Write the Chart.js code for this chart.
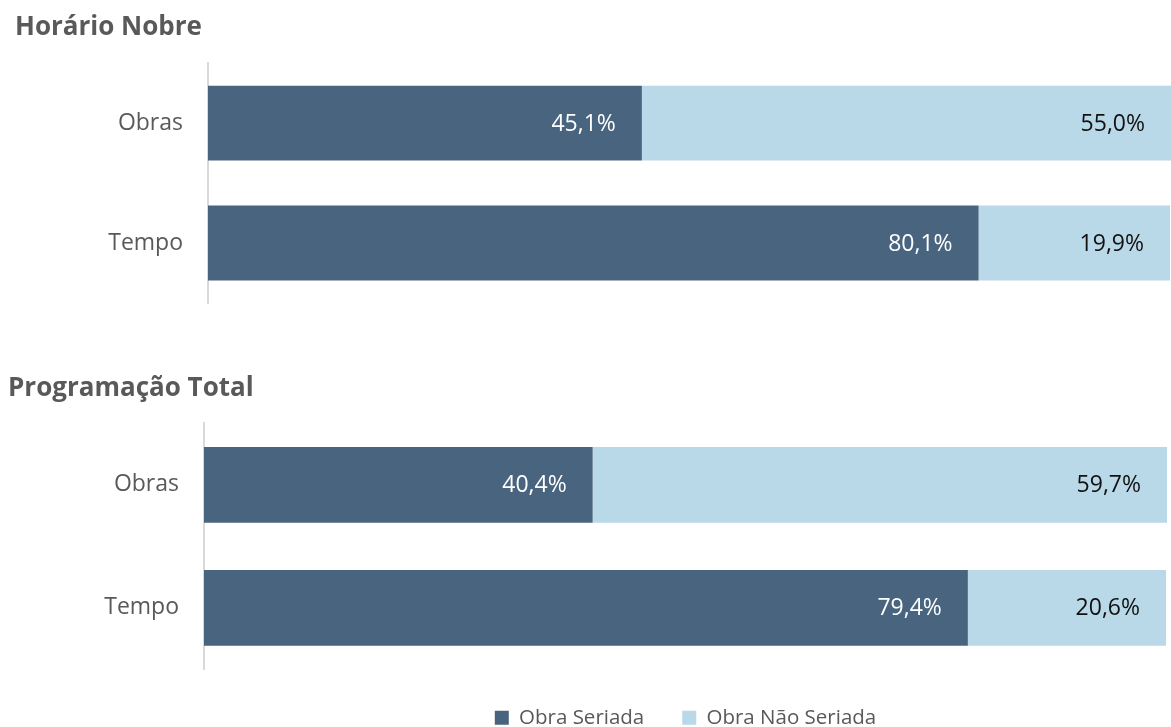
<!DOCTYPE html>
<html>
<head>
<meta charset="utf-8">
<script src="https://cdn.jsdelivr.net/npm/chart.js@4/dist/chart.umd.min.js"></script>
<style>
  html, body { margin: 0; padding: 0; background: #fff; overflow: hidden; }
  .box { position: absolute; left: 0; width: 1171px; }
  #top { top: 0; height: 330px; }
  #bottom { top: 340px; height: 398px; }
</style>
</head>
<body>
<div class="box" id="top"><canvas id="nobreChart"></canvas></div>
<div class="box" id="bottom"><canvas id="totalChart"></canvas></div>
<script>
const categories = ['Obras', 'Tempo'];
const seriesNames = ['Obra Seriada', 'Obra Não Seriada'];
const nobreSeriada = [45.1, 80.1];
const nobreNaoSeriada = [55.0, 19.9];
const totalSeriada = [40.4, 79.4];
const totalNaoSeriada = [59.7, 20.6];

const DARK = '#48647e';
const LIGHT = '#b9d8e8';
const GREY = '#595959';
const FONT = "'Open Sans', 'DejaVu Sans', sans-serif";

// value labels drawn near the end of each bar segment
const barLabels = {
    id: 'barLabels',
    afterDatasetsDraw(chart) {
        const ctx = chart.ctx;
        ctx.save();
        ctx.font = '23px ' + FONT;
        ctx.textAlign = 'right';
        ctx.textBaseline = 'middle';
        chart.data.datasets.forEach((ds, i) => {
            const meta = chart.getDatasetMeta(i);
            meta.data.forEach((bar, j) => {
                ctx.fillStyle = i === 0 ? '#ffffff' : '#111111';
                const txt = ds.data[j].toFixed(1).replace('.', ',') + '%';
                ctx.fillText(txt, bar.x - 26, bar.y + 1);
            });
        });
        ctx.restore();
    }
};

function makeChart(id, title, seriada, naoSeriada, opts) {
    return new Chart(document.getElementById(id), {
        type: 'bar',
        data: {
            labels: categories,
            datasets: [
                { label: seriesNames[0], data: seriada, backgroundColor: DARK },
                { label: seriesNames[1], data: naoSeriada, backgroundColor: LIGHT }
            ]
        },
        options: {
            indexAxis: 'y',
            maintainAspectRatio: false,
            animation: false,
            events: [],
            categoryPercentage: opts.barFrac,
            barPercentage: 1,
            layout: { padding: opts.padding },
            scales: {
                x: { stacked: true, min: 0, max: 100.1, display: false },
                y: {
                    stacked: true,
                    grid: { display: false, drawTicks: false },
                    border: { display: true, color: '#d9d9d9', width: 2 },
                    ticks: { color: GREY, padding: 25, font: { family: FONT, size: 23 } },
                    afterFit(scale) {
                        scale.width = opts.axisX - opts.padding.left;
                        scale.paddingTop = 0;
                        scale.paddingBottom = 0;
                    }
                }
            },
            plugins: {
                title: {
                    display: true,
                    text: title,
                    align: 'start',
                    color: GREY,
                    font: { family: FONT, size: 26, weight: 'bold' },
                    padding: opts.titlePad
                },
                legend: opts.legend,
                tooltip: { enabled: false }
            }
        },
        plugins: [barLabels]
    });
}

makeChart('nobreChart', 'Horário Nobre', nobreSeriada, nobreNaoSeriada, {
    barFrac: 0.625,
    axisX: 208,
    padding: { left: 15, right: 0, top: 0, bottom: 27 },
    titlePad: { top: 12, bottom: 20 },
    legend: { display: false }
});

makeChart('totalChart', 'Programação Total', totalSeriada, totalNaoSeriada, {
    barFrac: 0.615,
    axisX: 204,
    padding: { left: 8, right: 4, top: 0, bottom: 0 },
    titlePad: { top: 33, bottom: 19 },
    legend: {
        display: true,
        position: 'bottom',
        fullSize: false,
        labels: {
            color: GREY,
            boxWidth: 14,
            boxHeight: 14,
            padding: 38,
            font: { family: FONT, size: 20.5 }
        }
    }
});
</script>
</body>
</html>
